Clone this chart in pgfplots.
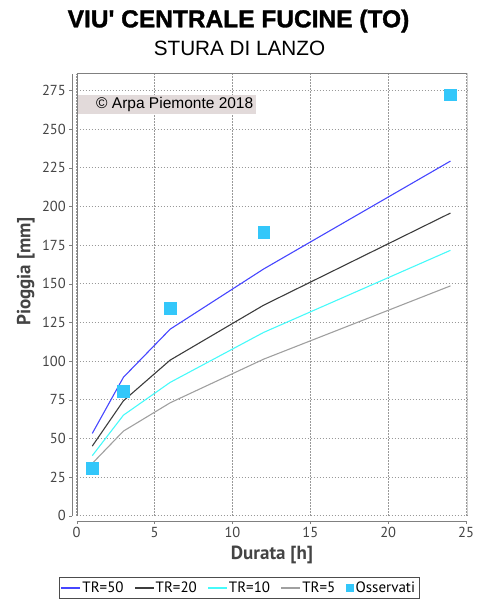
\documentclass[border=0pt]{standalone}
\usepackage{pgfplots}
\pgfplotsset{compat=1.18}
\usepackage{fontspec}
\setmainfont{Liberation Sans}
\newfontfamily\ptsans{PT Sans}
\newfontfamily\heavy[Ligatures=TeXOff, FakeBold=1.4]{Liberation Sans Bold}
\definecolor{cA}{RGB}{70,70,255}
\definecolor{cB}{RGB}{60,60,60}
\definecolor{cC}{RGB}{70,250,250}
\definecolor{cD}{RGB}{160,160,160}
\definecolor{cObs}{RGB}{51,199,250}
\definecolor{cBox}{RGB}{226,218,218}
\definecolor{cTxt}{RGB}{68,68,68}
\begin{document}
\begin{tikzpicture}[x=1pt,y=1pt]
\path (-76.7,-85.3) rectangle (400.3,515.7);
\node[font=\heavy\fontsize{24.5}{26}\selectfont] at (161.8,494.7) {VIU' CENTRALE FUCINE (TO)};
\node[font=\fontsize{20.7}{22}\selectfont] at (162.8,467.7) {STURA DI LANZO};
\begin{axis}[
  at={(0,0)}, anchor=south west, scale only axis,
  width=390.6pt, height=442pt,
  xmin=0, xmax=25.08, ymin=0, ymax=285.8,
  axis lines=left, axis line style={-, gray},
  axis x line shift=5.4pt, axis y line shift=4.4pt,
  xtick={0,5,...,25}, ytick={0,25,...,275},
  tick align=outside, major tick length=3pt, tick style={gray},
  grid=major, major grid style={gray!80, dash pattern=on 1.5pt off 1.5pt, line width=0.5pt},
  tick label style={font=\ptsans\fontsize{14.5}{14.5}\selectfont, text=cTxt},
  /pgf/number format/assume math mode=true,
  xlabel={Durata [h]}, ylabel={Pioggia [mm]},
  label style={font=\ptsans\bfseries\fontsize{19}{19}\selectfont, text=cTxt},
  xlabel style={at={(axis description cs:0.5,-0.0898)}, anchor=center},
  ylabel style={at={(axis description cs:-0.1306,0.553)}, anchor=center},
  legend style={at={(rel axis cs:0.416,-0.163)}, anchor=center, legend columns=5,
    draw=none, name=leg, font=\ptsans\fontsize{15}{15}\selectfont,
    inner sep=2pt, /tikz/every even column/.append style={column sep=9pt}},
  legend cell align=left,
]
\fill[cBox] (axis cs:0.04,259.9) rectangle (axis cs:11.52,271.8);
\node[anchor=west, font=\fontsize{15.5}{16}\selectfont, inner sep=0pt] at (axis cs:1.24,265.9) {© Arpa Piemonte 2018};
\addplot[cA, line width=1.1pt, legend image code/.code={\fill[cA] (0pt,-0.6pt) rectangle (18pt,0.6pt);}] coordinates {(1,53.2) (3,89.5) (6,120.6) (12,159.5) (24,229.3)};
\addlegendentry{TR=50}
\addplot[cB, line width=1.1pt, legend image code/.code={\fill[cB] (0pt,-0.6pt) rectangle (18pt,0.6pt);}] coordinates {(1,45.0) (3,74.3) (6,100.6) (12,136.1) (24,195.7)};
\addlegendentry{TR=20}
\addplot[cC, line width=1.1pt, legend image code/.code={\fill[cC] (0pt,-0.6pt) rectangle (18pt,0.6pt);}] coordinates {(1,38.8) (3,65.0) (6,86.2) (12,118.5) (24,171.6)};
\addlegendentry{TR=10}
\addplot[cD, line width=1.1pt, legend image code/.code={\fill[cD] (0pt,-0.6pt) rectangle (18pt,0.6pt);}] coordinates {(1,33.8) (3,54.7) (6,73.0) (12,101.2) (24,148.6)};
\addlegendentry{TR=5}
\addplot[only marks, mark=square*, mark size=5.8pt, color=cObs, legend image code/.code={\fill[cObs] (0pt,-3.5pt) rectangle (7pt,3.5pt);}] coordinates {(1,30.6) (3,80.5) (6,134.0) (12,183.3) (24,272.2)};
\addlegendentry{Osservati}
\draw[gray] (rel axis cs:0,0) rectangle (rel axis cs:1,1);
\end{axis}
\draw[gray!60!black, line width=0.6pt] (leg.south west) rectangle (leg.north east);
\end{tikzpicture}
\end{document}
